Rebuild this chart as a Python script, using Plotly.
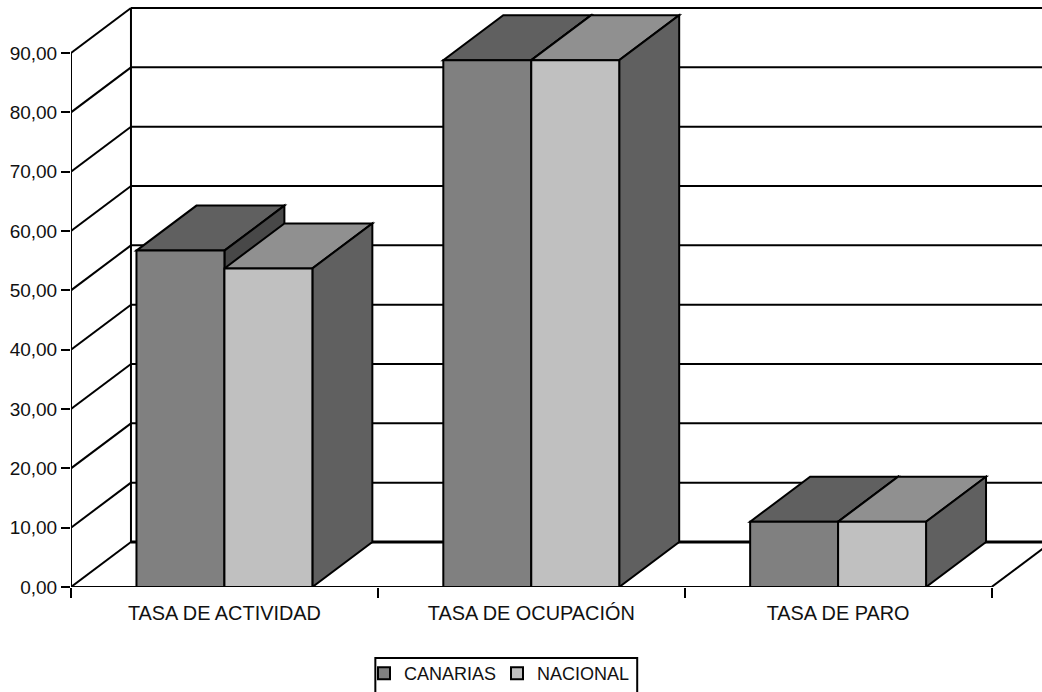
import plotly.graph_objects as go

categories = ["TASA DE ACTIVIDAD", "TASA DE OCUPACIÓN", "TASA DE PARO"]
canarias = [56.7, 88.8, 11.0]
nacional = [53.7, 88.8, 11.0]
y_ticks = [0, 10, 20, 30, 40, 50, 60, 70, 80, 90]
y_labels = ["0,00", "10,00", "20,00", "30,00", "40,00", "50,00", "60,00", "70,00", "80,00", "90,00"]

W, H = 1042, 692
L, B = 70.5, 105
CAT_PX = 307.0
VAL_PX = 5.933
DX = 60 / CAT_PX
DY = 45 / VAL_PX
BAR_W = 88 / CAT_PX
XMIN = -0.5
XMAX = XMIN + (W - L) / CAT_PX
YMAX = (H - B) / VAL_PX
LINE = dict(color="black", width=2)
FONT = "Liberation Sans, Arial, sans-serif"


def poly(pts, fill):
    path = "M " + " L ".join(f"{x} {y}" for x, y in pts) + " Z"
    return dict(type="path", xref="x", yref="y", path=path, fillcolor=fill,
                line=dict(color="black", width=2), layer="below")


def seg(x0, y0, x1, y1, width=2):
    return dict(type="line", xref="x", yref="y", x0=x0, y0=y0, x1=x1, y1=y1,
                line=dict(color="black", width=width), layer="below")


shapes = []
# walls: back-wall grid, side-wall diagonals
for v in y_ticks:
    shapes.append(seg(XMIN + DX, v + DY, XMAX, v + DY, 3 if v == 0 else 2))
    shapes.append(seg(XMIN, v, XMIN + DX, v + DY))
shapes.append(seg(XMIN + DX, DY, XMIN + DX, 90 + DY))
# floor edge on the right
shapes.append(seg(len(categories) + XMIN, 0, len(categories) + XMIN + DX, DY))

# depth faces
for i in range(len(categories)):
    xa = i - BAR_W
    xb = i
    xc = i + BAR_W
    a, b = canarias[i], nacional[i]
    shapes.append(poly([(xa, a), (xb, a), (xb + DX, a + DY), (xa + DX, a + DY)], "#606060"))
    shapes.append(poly([(xb, 0), (xb, a), (xb + DX, a + DY), (xb + DX, DY)], "#484848"))
    shapes.append(poly([(xb, b), (xc, b), (xc + DX, b + DY), (xb + DX, b + DY)], "#909090"))
    shapes.append(poly([(xc, 0), (xc, b), (xc + DX, b + DY), (xc + DX, DY)], "#606060"))


def px_x(p):
    return (p - L) / (W - L)


def px_y(p):
    return ((H - B) - p) / (H - B)


# legend frame (runs past the bottom of the page)
shapes.append(dict(type="rect", xref="paper", yref="paper", x0=px_x(375), x1=px_x(637),
                   y0=px_y(720), y1=px_y(658), line=LINE, fillcolor="rgba(0,0,0,0)", layer="above"))

fig = go.Figure()
fig.add_bar(x=[0, 1, 2], y=canarias, name="CANARIAS", width=BAR_W,
            marker=dict(color="#808080", line=LINE))
fig.add_bar(x=[0, 1, 2], y=nacional, name="NACIONAL", width=BAR_W,
            marker=dict(color="#C0C0C0", line=LINE))
# axis lines
fig.add_scatter(x=[XMIN, XMIN], y=[0, 90], mode="lines", line=dict(color="black", width=2),
                cliponaxis=False, showlegend=False, hoverinfo="skip")
fig.add_scatter(x=[XMIN, len(categories) + XMIN], y=[0, 0], mode="lines",
                line=dict(color="black", width=2), cliponaxis=False, showlegend=False, hoverinfo="skip")

fig.update_layout(
    width=W, height=H, autosize=False,
    margin=dict(l=L, r=0, t=0, b=B, pad=0),
    paper_bgcolor="white", plot_bgcolor="white",
    barmode="group", bargap=1 - 2 * BAR_W, bargroupgap=0,
    font=dict(family=FONT, size=19.5, color="#111111"),
    shapes=shapes,
    showlegend=True,
    legend=dict(orientation="h", xref="container", yref="container",
                x=364 / W, y=1 - 655 / H, xanchor="left", yanchor="top",
                bgcolor="rgba(0,0,0,0)", borderwidth=0, font=dict(family=FONT, size=18),
                traceorder="normal", itemwidth=30, entrywidth=88, entrywidthmode="pixels"),
    xaxis=dict(range=[XMIN, XMAX], showgrid=False, zeroline=False, showline=False,
               tickmode="array", tickvals=[0, 1, 2], ticktext=categories, ticks="",
               ticklabelstandoff=12, tickfont=dict(size=19.9),
               minor=dict(tickmode="array", tickvals=[-0.5, 0.5, 1.5, 2.5], ticks="outside",
                          ticklen=10, tickwidth=2, tickcolor="black", showgrid=False),
               automargin=False),
    yaxis=dict(range=[0, YMAX], showgrid=False, zeroline=False, showline=False,
               tickmode="array", tickvals=y_ticks, ticktext=y_labels, ticks="outside",
               ticklen=9, tickwidth=2, tickcolor="black", automargin=False,
               tickfont=dict(size=19)),
)
fig.write_html("out.html", config=dict(displayModeBar=False),
               post_script="document.body.style.margin='0';document.body.style.overflow='hidden';")
